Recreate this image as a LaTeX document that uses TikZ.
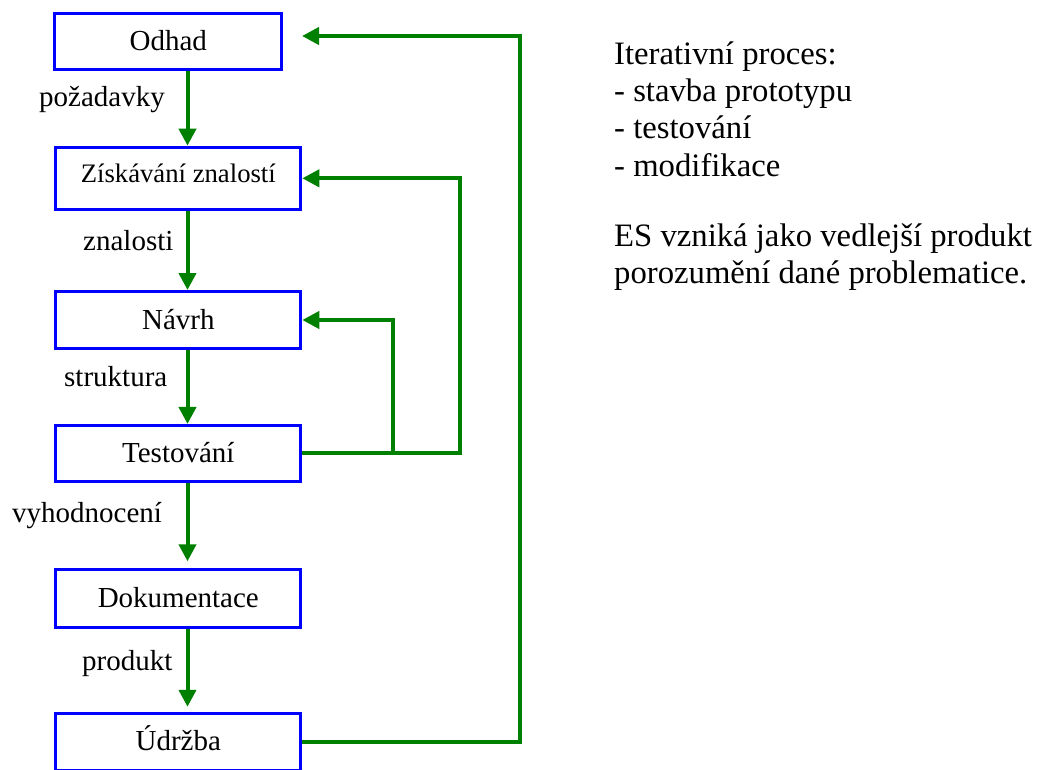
\documentclass[tikz,border=0pt]{standalone}
\usepackage{fontspec}
\setmainfont{Liberation Serif}
\usetikzlibrary{arrows.meta}
\definecolor{flowgreen}{RGB}{0,128,0}
\definecolor{boxblue}{RGB}{0,0,255}
\begin{document}
\begin{tikzpicture}[x=1pt,y=-1pt,
  stage/.style={draw=boxblue, line width=3pt, rectangle, inner sep=0pt,
    minimum width=245pt, font=\fontsize{29}{35}\selectfont,
    text height=18pt, text depth=0pt},
  flow/.style={draw=flowgreen, line width=4pt, -{Triangle[length=17pt,width=17pt]}},
  lbl/.style={anchor=base west, inner sep=0pt, font=\fontsize{29}{35}\selectfont},
  note/.style={anchor=base west, inner sep=0pt, font=\fontsize{32.7}{37}\selectfont}]

\useasboundingbox (0,0) rectangle (1043,769);
\clip (0,0) rectangle (1043,769);

% process stages
\node[stage, minimum width=227pt, minimum height=56pt] (odhad) at (168.3,41.2) {Odhad};
\node[stage, minimum height=62.3pt, font=\fontsize{26.7}{32}\selectfont,
      text depth=9.2pt] (zisk) at (178.3,178.3) {Získávání znalostí};
\node[stage, minimum height=57pt] (navrh) at (178.3,320) {Návrh};
\node[stage, minimum height=55.7pt] (test) at (178.3,453.3) {Testování};
\node[stage, minimum height=58pt] (dok) at (178.3,598.8) {Dokumentace};
\node[stage, minimum height=57.3pt] (udrzba) at (178.3,741.9) {Údržba};

% helper columns for the connectors
\coordinate (acol) at (187.5,0);
\coordinate (c393) at (393,0);
\coordinate (c460) at (460,0);
\coordinate (c520) at (520,0);
\coordinate (tipO) at (302,36);

% main flow
\draw[flow] (odhad.south -| acol) -- (zisk.north -| acol);
\draw[flow] (zisk.south -| acol) -- (navrh.north -| acol);
\draw[flow] (navrh.south -| acol) -- (test.north -| acol);
\draw[flow, shorten >=7pt] (test.south -| acol) -- (dok.north -| acol);
\draw[flow, shorten >=5pt] (dok.south -| acol) -- (udrzba.north -| acol);

% feedback loops
\draw[flow] (test.east) -- (test.east -| c393) |- (navrh.east);
\draw[flow] (test.east) -- (test.east -| c460) |- (zisk.east);
\draw[flow] (udrzba.east) -- (udrzba.east -| c520) |- (tipO);

% connector labels
\node[lbl] (l1) at (39,106) {požadavky};
\node[lbl] (l2) at (83,250) {znalosti};
\node[lbl] (l3) at (64,386) {struktura};
\node[lbl] (l4) at (12,522) {vyhodnocení};
\node[lbl] (l5) at (82,670) {produkt};

% notes
\node[note] (n1) at (614,64) {Iterativní proces:};
\node[note] (n2) at (614,101.5) {- stavba prototypu};
\node[note] (n3) at (614,138.5) {- testování};
\node[note] (n4) at (614,176.5) {- modifikace};
\node[note] (n5) at (614,246.5) {ES vzniká jako vedlejší produkt};
\node[note] (n6) at (614,283.5) {porozumění dané problematice.};
\end{tikzpicture}
\end{document}
